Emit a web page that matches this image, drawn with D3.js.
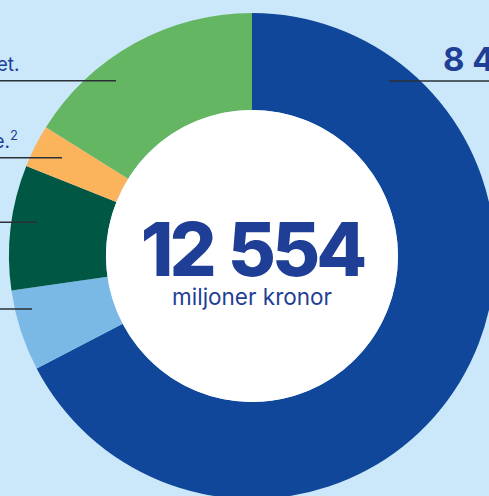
<!DOCTYPE html>
<html>
<head>
<meta charset="utf-8">
<script src="https://cdn.jsdelivr.net/npm/d3@7"></script>
<style>
  html, body { margin: 0; padding: 0; background: #cae8f9; }
  svg { display: block; }
</style>
</head>
<body>
<svg id="chart"></svg>
<script>
// slices, clockwise from 12 o'clock (miljoner kronor)
const categories = ['blue', 'lightblue', 'darkgreen', 'orange', 'green'];
const values = [8453, 678, 1043, 357, 2023];
const colors = ['#10479a', '#7ab9e6', '#005744', '#fbb35c', '#65b663'];
const total = '12 554';
const unit = 'miljoner kronor';
const bigLabel = '8 453';

const width = 489;
const height = 496;
const cx = 252, cy = 256;
const outer = 243, inner = 146;
const textBlue = '#1f3f96';

const svg = d3.select('#chart')
  .attr('width', width)
  .attr('height', height);

svg.append('rect')
  .attr('width', width)
  .attr('height', height)
  .attr('fill', '#cae8f9');

const pie = d3.pie().sort(null).value(d => d.value);
const arc = d3.arc().innerRadius(inner).outerRadius(outer);

const data = categories.map((c, i) => ({ name: c, value: values[i] }));

const g = svg.append('g').attr('transform', `translate(${cx},${cy})`);

g.selectAll('path')
  .data(pie(data))
  .enter()
  .append('path')
  .attr('d', arc)
  .attr('fill', (d, i) => colors[i]);

g.append('circle')
  .attr('r', inner)
  .attr('fill', '#fff');

// centre text
g.append('text')
  .attr('text-anchor', 'middle')
  .attr('x', 0)
  .attr('y', 20)
  .attr('font-family', 'Inter, sans-serif')
  .attr('font-weight', 800)
  .attr('font-size', 74)
  .attr('letter-spacing', -4)
  .attr('word-spacing', 3)
  .attr('fill', textBlue)
  .text(total);

g.append('text')
  .attr('text-anchor', 'middle')
  .attr('y', 49)
  .attr('font-family', 'Inter, sans-serif')
  .attr('font-size', 22.5)
  .attr('fill', textBlue)
  .text(unit);

// leader lines (x1, x2, y)
const leaders = [
  [0, 116, 80.7],
  [0, 62, 157.7],
  [0, 37, 222.3],
  [0, 32, 309],
  [389, 489, 81]
];

svg.selectAll('line.leader')
  .data(leaders)
  .enter()
  .append('line')
  .attr('class', 'leader')
  .attr('x1', d => d[0])
  .attr('x2', d => d[1])
  .attr('y1', d => d[2])
  .attr('y2', d => d[2])
  .attr('stroke', '#2b2f36')
  .attr('stroke-width', 1.5);

// side labels (cut off by the frame)
svg.append('text')
  .attr('x', 19.5)
  .attr('y', 71)
  .attr('text-anchor', 'end')
  .attr('font-family', 'Inter, sans-serif')
  .attr('font-size', 19)
  .attr('fill', textBlue)
  .text('et.');

const t2 = svg.append('text')
  .attr('x', 0)
  .attr('y', 147.5)
  .attr('font-family', 'Inter, sans-serif')
  .attr('font-size', 19)
  .attr('fill', textBlue);
t2.append('tspan').text('e.');
t2.append('tspan').attr('dy', -8).attr('font-size', 13).text('2');
// shift so the text ends near x=18
const bb = t2.node().getBBox();
t2.attr('x', 18 - bb.width);

svg.append('text')
  .attr('x', 443)
  .attr('y', 70.7)
  .attr('font-family', 'Inter, sans-serif')
  .attr('font-weight', 700)
  .attr('font-size', 33)
  .attr('fill', textBlue)
  .text(bigLabel);
</script>
</body>
</html>
